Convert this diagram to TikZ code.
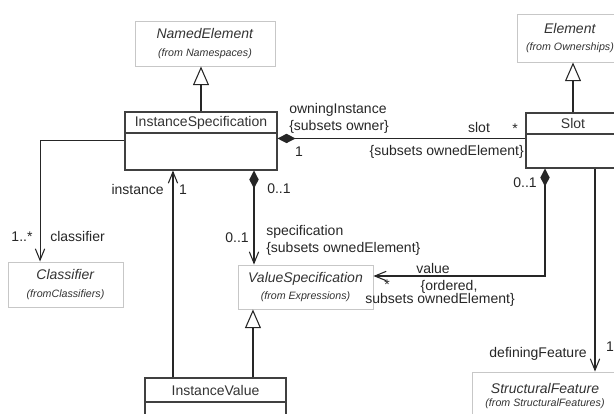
\documentclass[tikz,border=0pt]{standalone}
\usepackage{fontspec}
\setmainfont{Liberation Sans}
\usetikzlibrary{arrows.meta}

\newcommand{\fromfont}{\fontsize{8}{9}\selectfont\itshape}

\tikzset{
  cls/.style={draw=black!75, fill=white, line width=0.8pt, inner sep=0pt,
    text=black!80, font=\fontsize{10.5}{12}\selectfont},
  ext/.style={draw=black!22, fill=white, line width=0.7pt, inner sep=0pt,
    align=center, text=black!80, font=\fontsize{10.5}{13}\selectfont},
  lbl/.style={inner sep=0pt, text=black!85, font=\fontsize{10.5}{12.75}\selectfont},
  link/.style={draw=black!85, line width=0.8pt},
  gen/.style={link, -{Triangle[length=14pt,width=12pt,fill=white]}},
  nav/.style={link, -{Straight Barb[length=8.5pt,width=7pt]}},
  compnav/.style={link, {Diamond[length=13.5pt,width=7pt]}-{Straight Barb[length=8.5pt,width=7pt]}},
  comp/.style={link, {Diamond[length=13.5pt,width=7pt]}-},
}

\begin{document}
\begin{tikzpicture}[x=0.75pt, y=-0.75pt]
    \useasboundingbox (0, 0) rectangle (614, 414);
    % imported classes
    \node [ext, minimum width=105pt, minimum height=33.75pt] (ne) at (205, 43.5)
      {\textit{NamedElement}\\{\fromfont (from Namespaces)}};
    \node [ext, minimum width=79.5pt, minimum height=36pt] (el) at (570, 38)
      {\textit{Element}\\{\fromfont (from Ownerships)}};
    \node [ext, minimum width=86.25pt, minimum height=33.75pt] (cl) at (65.5, 284.5)
      {\textit{Classifier}\\{\fromfont (fromClassifiers)}};
    \node [ext, minimum width=101.25pt, minimum height=33pt] (vs) at (305.5, 287)
      {\textit{ValueSpecification}\\{\fromfont (from Expressions)}};
    \node [ext, minimum width=109.5pt, minimum height=36pt, font=\fontsize{10.5}{10}\selectfont] (sf) at (545, 396)
      {\textit{StructuralFeature}\\{\fromfont (from StructuralFeatures)}};
    % InstanceSpecification
    \node [cls, minimum width=114pt, minimum height=15.75pt] (isname) at (201, 122.5) {InstanceSpecification};
    \node [cls, minimum width=114pt, minimum height=27.75pt] (isbody) at (201, 151.5) {};
    % Slot
    \node [cls, minimum width=70.5pt, minimum height=15.75pt] (slotname) at (573, 123.5) {Slot};
    \node [cls, minimum width=70.5pt, minimum height=25.5pt] (slotbody) at (573, 151) {};
    % InstanceValue
    \node [cls, minimum width=105.75pt, minimum height=18pt] (ivname) at (215.5, 390) {InstanceValue};
    \node [cls, minimum width=105.75pt, minimum height=28.5pt] (ivbody) at (215.5, 421) {};

    % generalizations
    \draw [gen]      (isname.north) -- (isname.north |- ne.south);
    \draw [gen]      (slotname.north) -- (slotname.north |- el.south);
    \coordinate (ivg) at ([xshift=28.1pt]ivname.north);
    \draw [gen]      (ivg) -- (ivg |- vs.south);

    % owningInstance / slot
    \coordinate (isr) at ([yshift=-4.5pt]isbody.north east);
    \draw [comp]     (isr) -- (isr -| slotbody.west);
    \node [lbl, anchor=west, align=left] (owning) at (289, 118.5) {owningInstance\\\{subsets owner\}};
    \node [lbl] (m1) at (299, 152) {1};
    \node [lbl] (slotr) at (479, 127) {slot};
    \node [lbl] (m2) at (515, 129) {*};
    \node [lbl, anchor=east] (ownslot) at (524, 152) {\{subsets ownedElement\}};

    % classifier
    \coordinate (isl) at ([yshift=-6pt]isbody.north west);
    \draw [nav]      (isl) -| ([xshift=-19.1pt]cl.north);
    \node [lbl] (m3) at (22, 237) {1..*};
    \node [lbl, anchor=west] (classr) at (50, 236) {classifier};

    % instance
    \coordinate (ivl) at ([xshift=-31.9pt]ivname.north);
    \draw [nav]      (ivl) -- (ivl |- isbody.south);
    \node [lbl, anchor=east] (instr) at (164, 189) {instance};
    \node [lbl] (m4) at (183, 190) {1};

    % specification
    \coordinate (isc) at ([xshift=39.75pt]isbody.south);
    \draw [compnav]  (isc) -- (isc |- vs.north);
    \node [lbl, anchor=west] (m5) at (267, 189) {0..1};
    \node [lbl, anchor=east] (m6) at (249, 238) {0..1};
    \node [lbl, anchor=west, align=left] (specr) at (266, 240) {specification\\\{subsets ownedElement\}};

    % value
    \coordinate (slc) at ([xshift=-21pt]slotbody.south);
    \coordinate (vsr) at ([yshift=8.25pt]vs.east);
    \draw [compnav]  (slc) |- (vsr);
    \node [lbl] (m7) at (525, 183) {0..1};
    \node [lbl] (valr) at (433, 268) {value};
    \node [lbl] (m8) at (387, 285) {*};
    \node [lbl] (ordr) at (449, 287) {\{ordered,};
    \node [lbl] (ownval) at (440, 300) {subsets ownedElement\}};

    % definingFeature
    \coordinate (sld) at ([xshift=16.5pt]slotbody.south);
    \draw [nav]      (sld) -- (sld |- sf.north);
    \node [lbl, anchor=east] (defr) at (587, 354) {definingFeature};
    \node [lbl] (m9) at (610, 347) {1};
\end{tikzpicture}
\end{document}
